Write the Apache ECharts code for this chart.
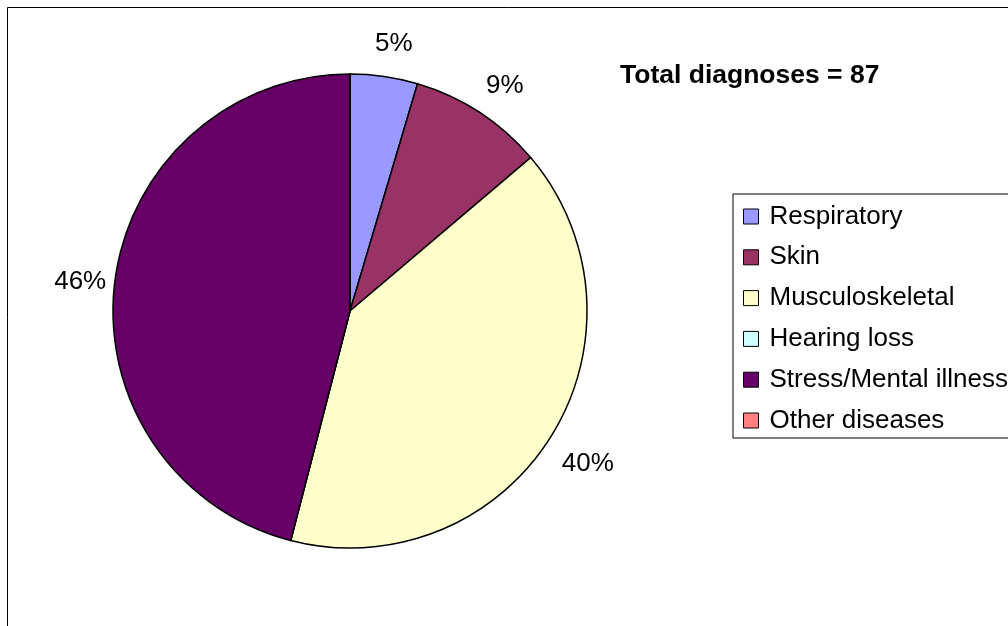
<!DOCTYPE html>
<html>
<head>
<meta charset="utf-8">
<script src="https://cdn.jsdelivr.net/npm/echarts@6/dist/echarts.min.js"></script>
<style>
html,body{margin:0;padding:0;background:#fff;}
#chart{width:1008px;height:626px;}
</style>
</head>
<body>
<div id="chart"></div>
<script>
const categories = ['Respiratory', 'Skin', 'Musculoskeletal', 'Hearing loss', 'Stress/Mental illness', 'Other diseases'];
const counts = [4, 8, 35, 0, 40, 0];
const colors = ['#9999FF', '#993366', '#FFFFCC', '#CCFFFF', '#660066', '#FF8080'];
const titleText = 'Total diagnoses = 87';

const FONT = '"Liberation Sans", Arial, sans-serif';
const chart = echarts.init(document.getElementById('chart'), null, {renderer: 'canvas'});

const mainData = categories.map((c, i) => ({name: c, value: counts[i], itemStyle: {color: colors[i]}}));
const labelData = categories.map((c, i) => ({name: c, value: counts[i]}));

chart.setOption({
  animation: false,
  backgroundColor: '#ffffff',
  title: {
    text: titleText,
    left: 620, top: 62, padding: 0,
    textStyle: {fontFamily: FONT, fontSize: 26.5, fontWeight: 'bold', color: '#000'}
  },
  legend: {
    orient: 'vertical',
    left: 733, top: 194,
    data: categories,
    borderColor: '#000', borderWidth: 1,
    padding: [7.5, 60, 2.5, 10],
    itemWidth: 15, itemHeight: 15, itemGap: 10.8,
    icon: 'rect',
    itemStyle: {borderColor: '#000', borderWidth: 1},
    selectedMode: false,
    textStyle: {fontFamily: FONT, fontSize: 26, color: '#000', lineHeight: 30, padding: [0, 0, 0, 6]}
  },
  graphic: [{
    type: 'rect', silent: true,
    shape: {x: 7.5, y: 7.5, width: 1200, height: 800},
    style: {fill: 'none', stroke: '#000', lineWidth: 1}
  }],
  series: [{
    type: 'pie',
    center: [350, 311], radius: 237,
    startAngle: 90, clockwise: true,
    minAngle: 0,
    percentPrecision: 0,
    avoidLabelOverlap: false,
    label: {show: false},
    labelLine: {show: false},
    itemStyle: {borderColor: '#000', borderWidth: 1.5},
    emphasis: {disabled: true},
    data: mainData
  }, {
    type: 'pie',
    silent: true,
    center: [350, 311], radius: [262, 284],
    startAngle: 90, clockwise: true,
    percentPrecision: 0,
    avoidLabelOverlap: false,
    itemStyle: {color: 'rgba(0,0,0,0)', borderWidth: 0},
    label: {
      show: true, position: 'inside',
      offset: [4, 6],
      fontFamily: FONT, fontSize: 26, color: '#000',
      formatter: p => p.value === 0 ? '' : p.percent + '%'
    },
    labelLine: {show: false},
    emphasis: {disabled: true},
    data: labelData
  }]
});
</script>
</body>
</html>
